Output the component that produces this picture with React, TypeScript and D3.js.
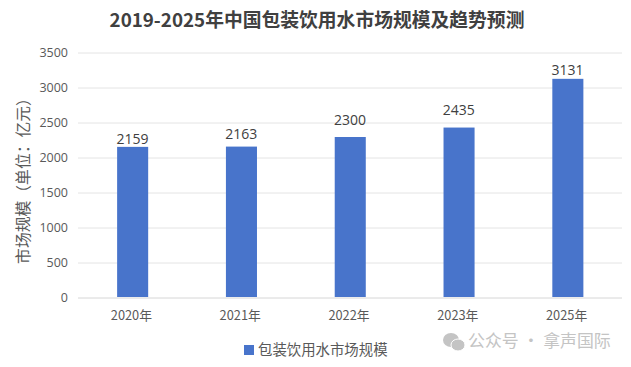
import React from "react";
import * as d3 from "d3";

const categories = ["2020年", "2021年", "2022年", "2023年", "2025年"];
const values = [2159, 2163, 2300, 2435, 3131];
const yTicks = [0, 500, 1000, 1500, 2000, 2500, 3000, 3500];
const labelLift = [8, 12, 17, 17, 9];
const title = "2019-2025年中国包装饮用水市场规模及趋势预测";
const seriesName = "包装饮用水市场规模";
const yTitle = "市场规模（单位：亿元）";
const watermark = "公众号 · 拿声国际";

const W = 631, H = 367;
const font = '"Noto Sans CJK SC","Open Sans",sans-serif';
const numFont = '"Open Sans","Noto Sans CJK SC",sans-serif';

export default function App() {
  const x = d3.scaleBand<string>().domain(categories).range([78, 622]).paddingInner(0.71).paddingOuter(0.355);
  const y = d3.scaleLinear().domain([0, 3500]).range([298, 53]);
  return (
    <svg width={W} height={H} viewBox={`0 0 ${W} ${H}`} style={{ position: "absolute", left: 0, top: 0, background: "#fff" }}>
      <text x={317} y={27} textAnchor="middle" fontFamily='"Noto Sans CJK SC",serif' fontWeight={700} fontSize={18.8} fill="#404040">{title}</text>
      {yTicks.map((t) => (
        <g key={t}>
          <line x1={78} x2={622} y1={y(t)} y2={y(t)} stroke={t === 0 ? "#d6d6d6" : "#e4e4e4"} strokeWidth={1} />
          <text x={68} y={y(t)} dy="0.35em" textAnchor="end" fontFamily={numFont} fontSize={12.5} fill="#595959">{t}</text>
        </g>
      ))}
      {categories.map((c, i) => (
        <g key={c}>
          <rect x={x(c)! + 0.5} y={y(values[i])} width={x.bandwidth() - 0.5} height={y(0) - y(values[i]) - 1} fill="#4874cb" />
          <text x={x(c)! + x.bandwidth() / 2} y={y(values[i]) - labelLift[i]} dy="0.35em" textAnchor="middle" fontFamily={numFont} fontSize={14} fill="#404040">{values[i]}</text>
          <text x={x(c)! + x.bandwidth() / 2 - 1} y={316} dy="0.35em" textAnchor="middle" fontFamily={font} fontSize={12.8} fill="#595959">{c}</text>
        </g>
      ))}
      <text transform="translate(23,177) rotate(-90)" textAnchor="middle" dy="0.35em" fontFamily={font} fontSize={15.8} fill="#595959">{yTitle}</text>
      <rect x={244} y={345} width={10} height={10} fill="#4874cb" />
      <text x={258} y={350} dy="0.35em" fontFamily={font} fontSize={14.4} fill="#595959">{seriesName}</text>
      <g fill="#c4c4c4">
        <ellipse cx={451} cy={340} rx={8} ry={7} />
        <ellipse cx={458} cy={345} rx={7} ry={6} stroke="#fff" strokeWidth={1} />
      </g>
      <text x={468} y={341} dy="0.35em" fontFamily={font} fontSize={16.9} fill="#c4c4c4">{watermark}</text>
    </svg>
  );
}
